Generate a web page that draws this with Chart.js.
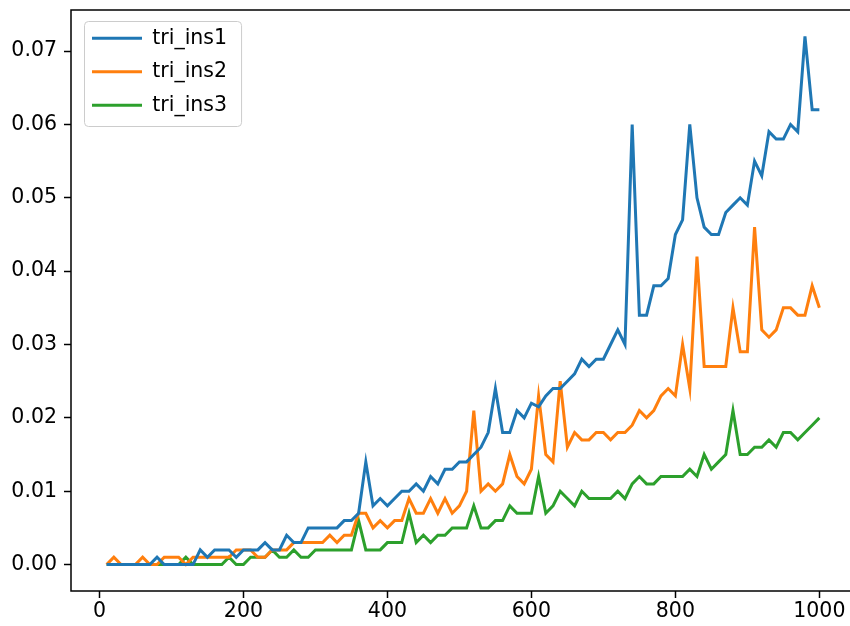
<!DOCTYPE html>
<html>
<head>
<meta charset="utf-8">
<script src="https://cdn.jsdelivr.net/npm/chart.js@4.4.1/dist/chart.umd.min.js"></script>
<style>
  html, body { margin: 0; background: #fff; overflow: hidden; }
  #wrap { width: 850px; height: 626px; overflow: hidden; }
  canvas { display: block; }
</style>
</head>
<body>
<!-- the reference is cropped on the right, so the canvas runs a few px past the 850px box -->
<div id="wrap"><canvas id="chart" width="855" height="626"></canvas></div>
<script>
const sizes = [10, 20, 30, 40, 50, 60, 70, 80, 90, 100,
  110, 120, 130, 140, 150, 160, 170, 180, 190, 200,
  210, 220, 230, 240, 250, 260, 270, 280, 290, 300,
  310, 320, 330, 340, 350, 360, 370, 380, 390, 400,
  410, 420, 430, 440, 450, 460, 470, 480, 490, 500,
  510, 520, 530, 540, 550, 560, 570, 580, 590, 600,
  610, 620, 630, 640, 650, 660, 670, 680, 690, 700,
  710, 720, 730, 740, 750, 760, 770, 780, 790, 800,
  810, 820, 830, 840, 850, 860, 870, 880, 890, 900,
  910, 920, 930, 940, 950, 960, 970, 980, 990, 1000];

const triIns1 = [0, 0, 0, 0, 0, 0, 0, 0.001, 0, 0,
  0, 0, 0, 0.002, 0.001, 0.002, 0.002, 0.002, 0.001, 0.002,
  0.002, 0.002, 0.003, 0.002, 0.002, 0.004, 0.003, 0.003, 0.005, 0.005,
  0.005, 0.005, 0.005, 0.006, 0.006, 0.007, 0.014, 0.008, 0.009, 0.008,
  0.009, 0.010, 0.010, 0.011, 0.010, 0.012, 0.011, 0.013, 0.013, 0.014,
  0.014, 0.015, 0.016, 0.018, 0.024, 0.018, 0.018, 0.021, 0.020, 0.022,
  0.0215, 0.023, 0.024, 0.024, 0.025, 0.026, 0.028, 0.027, 0.028, 0.028,
  0.030, 0.032, 0.030, 0.060, 0.034, 0.034, 0.038, 0.038, 0.039, 0.045,
  0.047, 0.060, 0.050, 0.046, 0.045, 0.045, 0.048, 0.049, 0.050, 0.049,
  0.055, 0.053, 0.059, 0.058, 0.058, 0.060, 0.059, 0.072, 0.062, 0.062];

const triIns2 = [0, 0.001, 0, 0, 0, 0.001, 0, 0, 0.001, 0.001,
  0.001, 0, 0.001, 0.001, 0.001, 0.001, 0.001, 0.001, 0.002, 0.002,
  0.002, 0.001, 0.001, 0.002, 0.002, 0.002, 0.003, 0.003, 0.003, 0.003,
  0.003, 0.004, 0.003, 0.004, 0.004, 0.007, 0.007, 0.005, 0.006, 0.005,
  0.006, 0.006, 0.009, 0.007, 0.007, 0.009, 0.007, 0.009, 0.007, 0.008,
  0.010, 0.021, 0.010, 0.011, 0.010, 0.011, 0.015, 0.012, 0.011, 0.013,
  0.023, 0.015, 0.014, 0.025, 0.016, 0.018, 0.017, 0.017, 0.018, 0.018,
  0.017, 0.018, 0.018, 0.019, 0.021, 0.020, 0.021, 0.023, 0.024, 0.023,
  0.030, 0.024, 0.042, 0.027, 0.027, 0.027, 0.027, 0.035, 0.029, 0.029,
  0.046, 0.032, 0.031, 0.032, 0.035, 0.035, 0.034, 0.034, 0.038, 0.035];

const triIns3 = [0, 0, 0, 0, 0, 0, 0, 0, 0, 0,
  0, 0.001, 0, 0, 0, 0, 0, 0.001, 0, 0,
  0.001, 0.001, 0.001, 0.002, 0.001, 0.001, 0.002, 0.001, 0.001, 0.002,
  0.002, 0.002, 0.002, 0.002, 0.002, 0.006, 0.002, 0.002, 0.002, 0.003,
  0.003, 0.003, 0.007, 0.003, 0.004, 0.003, 0.004, 0.004, 0.005, 0.005,
  0.005, 0.008, 0.005, 0.005, 0.006, 0.006, 0.008, 0.007, 0.007, 0.007,
  0.012, 0.007, 0.008, 0.010, 0.009, 0.008, 0.010, 0.009, 0.009, 0.009,
  0.009, 0.010, 0.009, 0.011, 0.012, 0.011, 0.011, 0.012, 0.012, 0.012,
  0.012, 0.013, 0.012, 0.015, 0.013, 0.014, 0.015, 0.021, 0.015, 0.015,
  0.016, 0.016, 0.017, 0.016, 0.018, 0.018, 0.017, 0.018, 0.019, 0.020];

const xTickValues = [0, 200, 400, 600, 800, 1000];
const yTickValues = [0, 0.01, 0.02, 0.03, 0.04, 0.05, 0.06, 0.07];

const FONT = 'DejaVu Sans';
const FS = 20.5;
const LEGEND_PAD = 13;
const LEGEND_BOX = 50;

function pts(values) {
  return sizes.map((x, i) => ({ x: x, y: values[i] }));
}

function series(label, values, color) {
  return {
    label: label,
    data: pts(values),
    borderColor: color,
    backgroundColor: color,
    borderWidth: 3,
    pointRadius: 0,
    tension: 0,
    fill: false
  };
}

// matplotlib-style frame: full axes box + legend frame
const frames = {
  id: 'frames',
  afterLayout(chart) {
    const a = chart.chartArea;
    const lg = chart.legend;
    lg.left = a.left + 8;
    lg.top = a.top + 5;
    lg.right = a.right;
    lg.bottom = a.bottom;
  },
  beforeDraw(chart) {
    const lg = chart.legend;
    const ctx = chart.ctx;
    ctx.save();
    ctx.font = FS + 'px "' + FONT + '"';
    let maxW = 0;
    lg.legendItems.forEach(it => { maxW = Math.max(maxW, ctx.measureText(it.text).width); });
    const n = lg.legendItems.length;
    const x0 = lg.left + LEGEND_PAD - 8;
    const y0 = lg.top + LEGEND_PAD - 7;
    const x1 = lg.left + LEGEND_PAD + LEGEND_BOX + FS / 2 + maxW + 14;
    const y1 = lg.top + LEGEND_PAD + (n - 1) * (FS + LEGEND_PAD) + FS + 10.5;
    ctx.beginPath();
    ctx.roundRect(x0 + 0.5, y0 + 0.5, x1 - x0, y1 - y0, 4);
    ctx.fillStyle = 'rgba(255,255,255,0.8)';
    ctx.fill();
    ctx.strokeStyle = '#cccccc';
    ctx.lineWidth = 1;
    ctx.stroke();
    ctx.restore();
  },
  afterDraw(chart) {
    const a = chart.chartArea;
    const ctx = chart.ctx;
    ctx.save();
    ctx.strokeStyle = '#000';
    ctx.lineWidth = 1.5;
    ctx.strokeRect(a.left, a.top, a.right - a.left, a.bottom - a.top);
    ctx.restore();
  }
};

new Chart(document.getElementById('chart'), {
  type: 'line',
  data: {
    datasets: [
      series('tri_ins1', triIns1, '#1f77b4'),
      series('tri_ins2', triIns2, '#ff7f0e'),
      series('tri_ins3', triIns3, '#2ca02c')
    ]
  },
  options: {
    responsive: false,
    animation: false,
    layout: { padding: { top: 10, right: 0, left: 0, bottom: 0 } },
    font: { family: FONT, size: FS },
    color: '#000',
    plugins: {
      tooltip: { enabled: false },
      legend: {
        position: 'chartArea',
        align: 'start',
        labels: {
          color: '#000',
          font: { family: FONT, size: FS },
          boxWidth: LEGEND_BOX,
          boxHeight: 3,
          padding: LEGEND_PAD,
          generateLabels(chart) {
            const items = Chart.defaults.plugins.legend.labels.generateLabels(chart);
            items.forEach(it => { it.lineWidth = 0; it.fillStyle = it.strokeStyle; });
            return items;
          }
        }
      }
    },
    scales: {
      x: {
        type: 'linear',
        min: -39.5,
        max: 1049.5,
        afterBuildTicks(scale) { scale.ticks = xTickValues.map(v => ({ value: v })); },
        afterFit(scale) {
          scale.height = 35;
          scale.paddingLeft = 0;
          scale.paddingRight = 0;
        },
        border: { display: false },
        grid: { drawOnChartArea: false, drawTicks: true, tickLength: 7, tickColor: '#000', tickWidth: 1.5 },
        ticks: {
          color: '#000',
          font: { family: FONT, size: FS },
          padding: 1,
          maxRotation: 0,
          callback: v => String(v)
        }
      },
      y: {
        type: 'linear',
        min: -0.0036,
        max: 0.0756,
        afterBuildTicks(scale) { scale.ticks = yTickValues.map(v => ({ value: v })); },
        afterFit(scale) {
          scale.width = 71;
          scale.paddingTop = 0;
          scale.paddingBottom = 0;
        },
        border: { display: false },
        grid: { drawOnChartArea: false, drawTicks: true, tickLength: 7, tickColor: '#000', tickWidth: 1.5 },
        ticks: {
          color: '#000',
          font: { family: FONT, size: FS },
          padding: 7,
          callback: v => v.toFixed(2)
        }
      }
    }
  },
  plugins: [frames]
});
</script>
</body>
</html>
